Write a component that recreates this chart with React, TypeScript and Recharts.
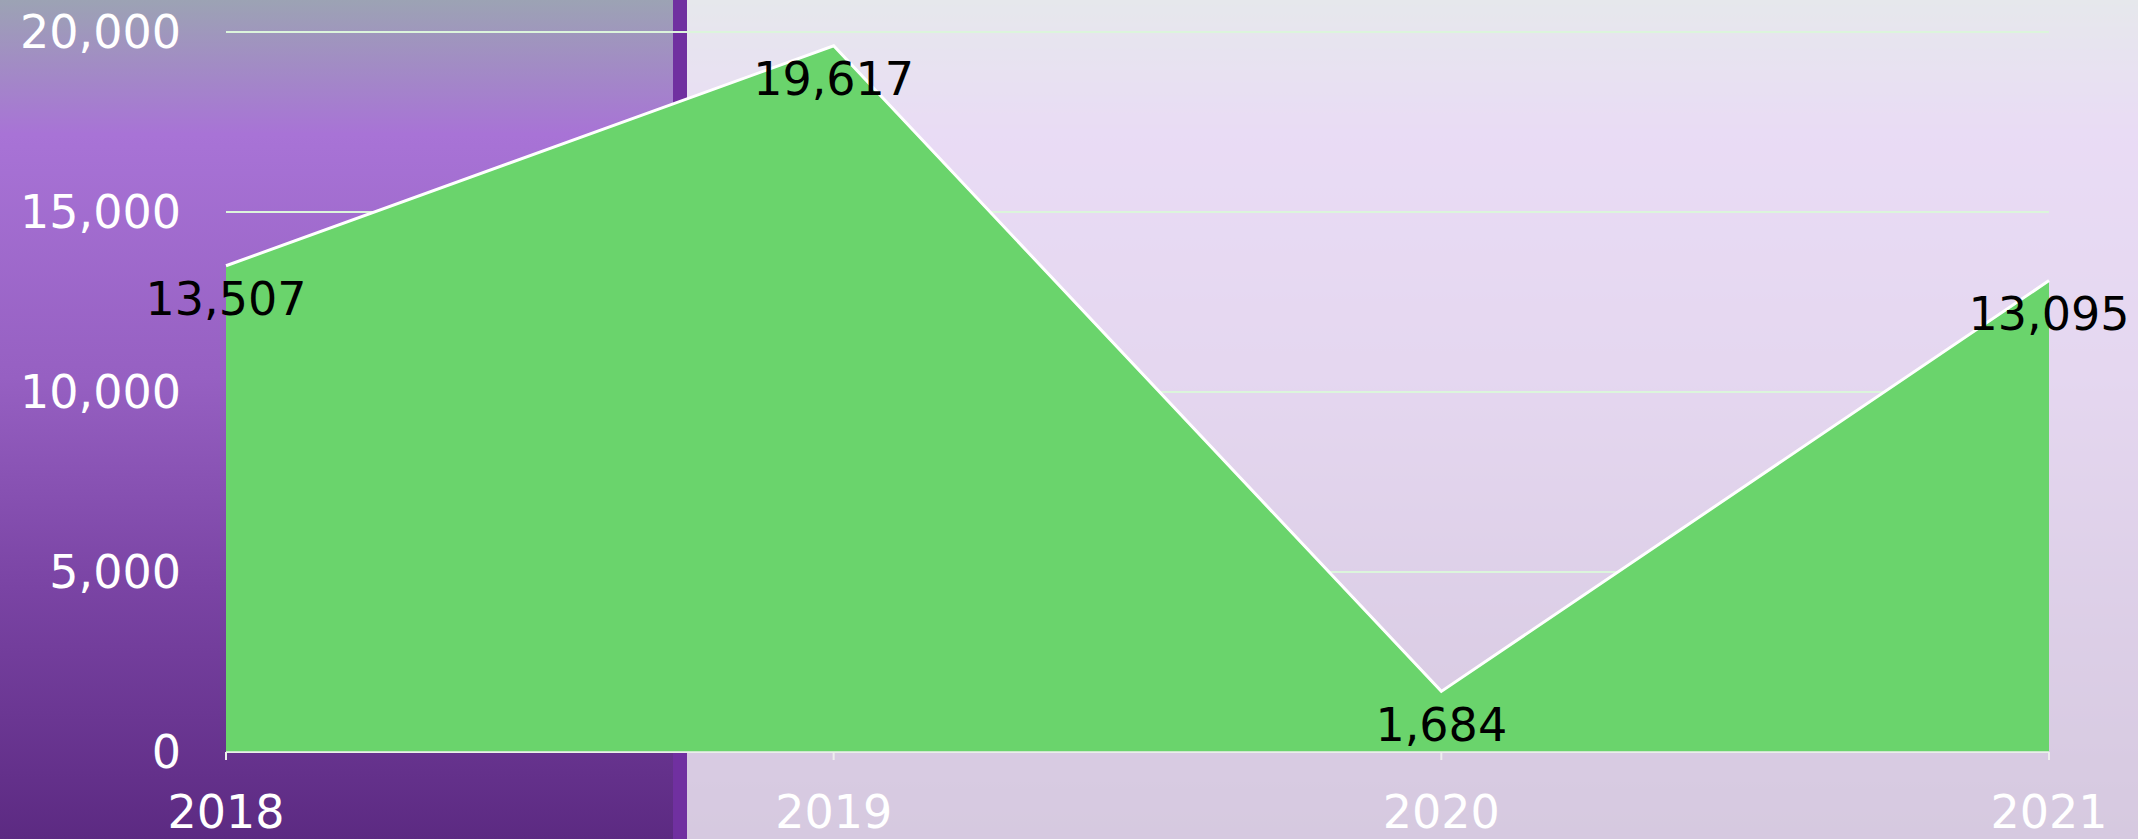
import { AreaChart, Area, XAxis, YAxis, CartesianGrid, LabelList } from 'recharts';

const years = ['2018', '2019', '2020', '2021'];
const amounts = [13507, 19617, 1684, 13095];
const yTicks = [0, 5000, 10000, 15000, 20000];

const chartData = years.map((y, i) => ({ year: y, value: amounts[i] }));

const FONT = '"DejaVu Sans", Verdana, sans-serif';
const fmt = (v: number) => Number(v).toLocaleString('en-US');

export default function App() {
  return (
    <div style={{ position: 'absolute', top: 0, left: 0, width: 2138, height: 839, overflow: 'hidden' }}>
      {/* page background: purple gradient, right part washed out */}
      <div
        style={{
          position: 'absolute',
          inset: 0,
          background:
            'linear-gradient(to bottom, #9ca3b4 0%, #a873d6 16%, #9660c2 45%, #7a44a4 70%, #5c2a82 100%)',
        }}
      />
      <div
        style={{
          position: 'absolute',
          top: 0,
          bottom: 0,
          left: 687,
          right: 0,
          background: 'rgba(255,255,255,0.75)',
        }}
      />
      <div style={{ position: 'absolute', top: 0, bottom: 0, left: 673, width: 14, background: '#7030a0' }} />

      <div style={{ position: 'absolute', top: 0, left: 0 }}>
        <AreaChart width={2138} height={839} data={chartData} margin={{ top: 32, right: 89, bottom: 0, left: 0 }}>
          <CartesianGrid vertical={false} stroke="#dcf5dc" strokeWidth={2} />
          <XAxis
            dataKey="year"
            height={87}
            axisLine={{ stroke: '#eeeeee', strokeWidth: 1.5 }}
            tickLine={{ stroke: '#eeeeee', strokeWidth: 2 }}
            tickSize={8}
            tickMargin={35}
            tick={{ fill: '#ffffff', fontSize: 46, fontFamily: FONT }}
          />
          <YAxis
            width={226}
            domain={[0, 20000]}
            ticks={yTicks}
            axisLine={false}
            tickLine={false}
            tickSize={0}
            tickMargin={45}
            tickFormatter={fmt}
            tick={{ fill: '#ffffff', fontSize: 46, fontFamily: FONT }}
          />
          <Area
            type="linear"
            dataKey="value"
            stroke="#ffffff"
            strokeWidth={3}
            fill="#6ad46c"
            fillOpacity={1}
            dot={false}
            activeDot={false}
            isAnimationActive={false}
          >
            <LabelList
              dataKey="value"
              position="bottom"
              offset={17}
              formatter={(v: any) => fmt(v)}
              fill="#000000"
              fontSize={46}
              fontFamily={FONT}
            />
          </Area>
        </AreaChart>
      </div>
    </div>
  );
}
